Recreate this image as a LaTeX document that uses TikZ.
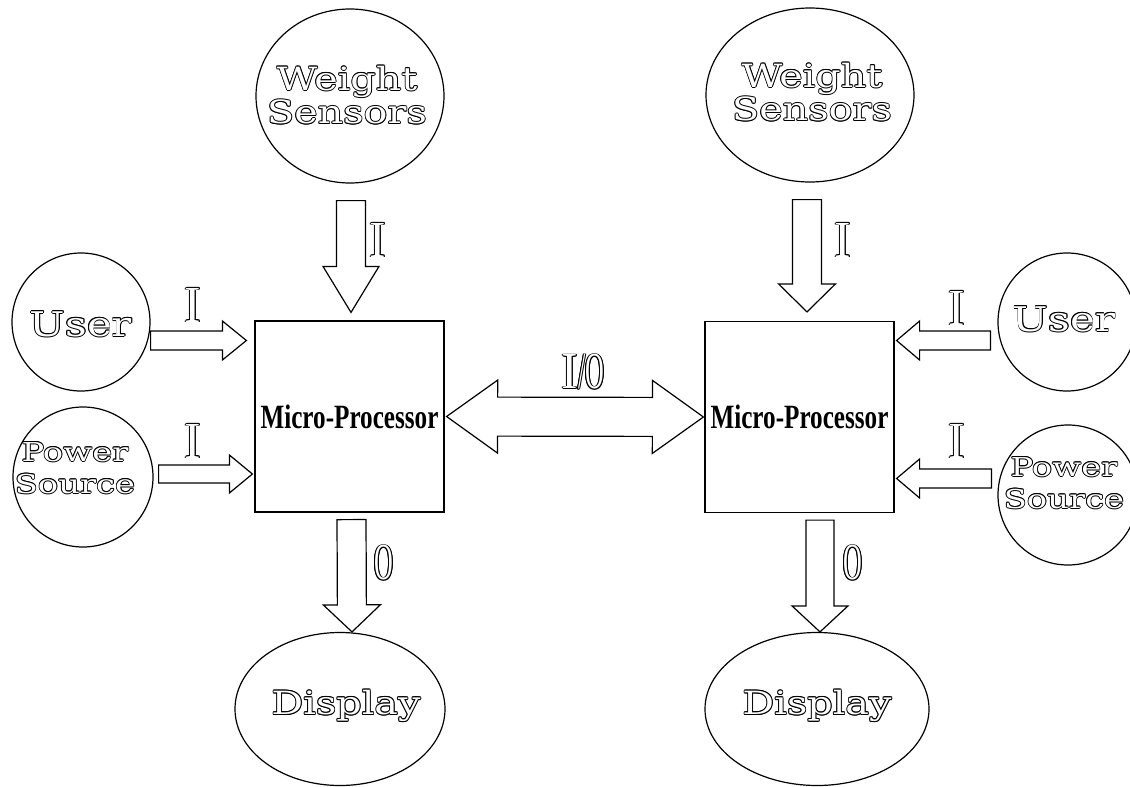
\documentclass[tikz,border=0pt]{standalone}
\usepackage{fontspec}
\usetikzlibrary{calc,shapes.geometric}
\newfontfamily\outfont[FakeStretch=1.24]{DejaVu Serif}
\newfontfamily\outfontw[FakeStretch=1.3]{DejaVu Serif}
\newfontfamily\lblI[FakeStretch=0.95]{Liberation Serif}
\newfontfamily\lblO[FakeStretch=0.5]{Liberation Serif}
\newfontfamily\mpfont[FakeStretch=0.74]{Liberation Serif Bold}
\newcommand\olk[3]{\rlap{\kern#1\raisebox{#2}{#3}}}
\newcommand\outl[1]{\mbox{%
 \olk{0.9pt}{0pt}{#1}\olk{-0.9pt}{0pt}{#1}\olk{0pt}{0.9pt}{#1}\olk{0pt}{-0.9pt}{#1}%
 \olk{0.64pt}{0.64pt}{#1}\olk{-0.64pt}{0.64pt}{#1}\olk{0.64pt}{-0.64pt}{#1}\olk{-0.64pt}{-0.64pt}{#1}%
 \textcolor{white}{#1}}}
\begin{document}
\begin{tikzpicture}[x=1pt,y=-1pt,
 shapebox/.style={draw, line width=1.2pt, inner sep=0pt},
 oval/.style 2 args={shapebox, ellipse, minimum width=#1, minimum height=#2},
 roundnode/.style={shapebox, circle, minimum size=#1},
 mpbox/.style={shapebox, rectangle, minimum width=189pt, minimum height=191pt,
   font=\mpfont\fontsize{34}{36}\selectfont},
 otext/.style={font=\outfont\fontsize{32}{31}\selectfont, align=center, inner sep=0pt},
 otextu/.style={font=\outfont\fontsize{34}{33}\selectfont, align=center, inner sep=0pt},
 otexts/.style={font=\outfontw\fontsize{26}{32}\selectfont, align=center, inner sep=0pt},
 lbl/.style={font=\fontsize{52}{52}\selectfont, inner sep=0pt},
 blockarrow/.style n args={3}{draw, line width=1.2pt, fill=white, line join=miter, to path={
   ($(\tikztostart)!#1!90:(\tikztotarget)$)
   -- ($(\tikztotarget)!#3!(\tikztostart)!#1!-90:(\tikztostart)$)
   -- ($(\tikztotarget)!#3!(\tikztostart)!#2!-90:(\tikztostart)$)
   -- (\tikztotarget)
   -- ($(\tikztotarget)!#3!(\tikztostart)!#2!90:(\tikztostart)$)
   -- ($(\tikztotarget)!#3!(\tikztostart)!#1!90:(\tikztostart)$)
   -- ($(\tikztostart)!#1!-90:(\tikztotarget)$)
   -- cycle}},
 dblarrow/.style n args={3}{draw, line width=1.2pt, fill=white, line join=miter, to path={
   (\tikztostart)
   -- ($(\tikztostart)!#3!(\tikztotarget)!#2!90:(\tikztotarget)$)
   -- ($(\tikztostart)!#3!(\tikztotarget)!#1!90:(\tikztotarget)$)
   -- ($(\tikztotarget)!#3!(\tikztostart)!#1!-90:(\tikztostart)$)
   -- ($(\tikztotarget)!#3!(\tikztostart)!#2!-90:(\tikztostart)$)
   -- (\tikztotarget)
   -- ($(\tikztotarget)!#3!(\tikztostart)!#2!90:(\tikztostart)$)
   -- ($(\tikztotarget)!#3!(\tikztostart)!#1!90:(\tikztostart)$)
   -- ($(\tikztostart)!#3!(\tikztotarget)!#1!-90:(\tikztotarget)$)
   -- ($(\tikztostart)!#3!(\tikztotarget)!#2!-90:(\tikztotarget)$)
   -- cycle}},
]
\useasboundingbox[fill=white] (0,0) rectangle (1130,787);

% ---------- left unit ----------
\node[oval={188pt}{174pt}] (ws1) at (350,96) {};
\node[otext] (ws1t) at (347,95) {\outl{Weight}\\\outl{Sensors}};
\node[mpbox] (box1) at (349.5,416.5) {Micro-Processor};
\node[roundnode=138pt] (user1) at (81,322) {};
\node[otextu] (user1t) at (81,324) {\outl{User}};
\node[roundnode=140pt] (pow1) at (83,477) {};
\node[otexts] (pow1t) at (75,468) {\outl{Power}\\\outl{Source}};
\node[oval={210pt}{153pt}] (disp1) at (340,709) {};
\node[otext] (disp1t) at (346,706) {\outl{Display}};

% ---------- right unit ----------
\node[oval={208pt}{174pt}] (ws2) at (810,95) {};
\node[otext] (ws2t) at (812,92) {\outl{Weight}\\\outl{Sensors}};
\node[mpbox] (box2) at (799.5,417) {Micro-Processor};
\node[roundnode=138pt] (user2) at (1067,322) {};
\node[otextu] (user2t) at (1064,319) {\outl{User}};
\node[roundnode=140pt] (pow2) at (1068,495) {};
\node[otexts] (pow2t) at (1064,483) {\outl{Power}\\\outl{Source}};
\node[oval={224pt}{153pt}] (disp2) at (817,709) {};
\node[otext] (disp2t) at (817,706) {\outl{Display}};

% ---------- arrow end points ----------
\coordinate (a1s) at ([xshift=1pt,yshift=-17pt]ws1.south);
\coordinate (a1t) at ([xshift=1.5pt,yshift=8pt]box1.north);
\coordinate (a2s) at ([xshift=0pt]user1.east |- 0,340.5);
\coordinate (a2t) at ([xshift=-8pt]box1.west |- 0,340.5);
\coordinate (a3s) at ([xshift=5pt]pow1.east |- 0,474);
\coordinate (a3t) at ([xshift=-2pt]box1.west |- 0,474);
\coordinate (a4s) at ([xshift=2pt,yshift=-7pt]box1.south);
\coordinate (a4t) at ([xshift=12pt]disp1.north);
\coordinate (a5s) at ([xshift=2pt]box1.east);
\coordinate (a5t) at ([xshift=-1pt]box2.west);
\coordinate (b1s) at ([xshift=-3pt,yshift=-17pt]ws2.south);
\coordinate (b1t) at ([xshift=7.5pt,yshift=9pt]box2.north);
\coordinate (b2s) at ([xshift=-7pt]user2.west |- 0,340.5);
\coordinate (b2t) at ([xshift=2pt]box2.east |- 0,340.5);
\coordinate (b3s) at ([xshift=-6pt]pow2.west |- 0,478.5);
\coordinate (b3t) at ([xshift=2pt]box2.east |- 0,478.5);
\coordinate (b4s) at ([xshift=20.5pt,yshift=-7pt]box2.south);
\coordinate (b4t) at ([xshift=3pt]disp2.north);

% ---------- block arrows ----------
\draw[blockarrow={14.5pt}{28pt}{46pt}] (a1s) to (a1t);
\draw[blockarrow={9.5pt}{19.5pt}{24pt}] (a2s) to (a2t);
\draw[blockarrow={9pt}{19pt}{23pt}] (a3s) to (a3t);
\draw[blockarrow={14.5pt}{28.5pt}{27pt}] (a4s) to (a4t);
\draw[dblarrow={19.5pt}{36.5pt}{51pt}] (a5s) to (a5t);
\draw[blockarrow={14.5pt}{28.5pt}{28pt}] (b1s) to (b1t);
\draw[blockarrow={9.5pt}{19.5pt}{23pt}] (b2s) to (b2t);
\draw[blockarrow={9.5pt}{19.5pt}{23pt}] (b3s) to (b3t);
\draw[blockarrow={14pt}{28pt}{26pt}] (b4s) to (b4t);

% ---------- labels ----------
\node[lbl] (l1) at (378,240) {\lblI\outl{I}};
\node[lbl] (l2) at (193,305) {\lblI\outl{I}};
\node[lbl] (l3) at (193,441) {\lblI\outl{I}};
\node[lbl] (l4) at (384,563) {\lblO\outl{O}};
\node[lbl] (l5) at (583,372) {\outl{{\lblI I}{\lblO /O}}};
\node[lbl] (l6) at (843,240) {\lblI\outl{I}};
\node[lbl] (l7) at (957,308) {\lblI\outl{I}};
\node[lbl] (l8) at (957,441) {\lblI\outl{I}};
\node[lbl] (l9) at (853,563) {\lblO\outl{O}};
\end{tikzpicture}
\end{document}
